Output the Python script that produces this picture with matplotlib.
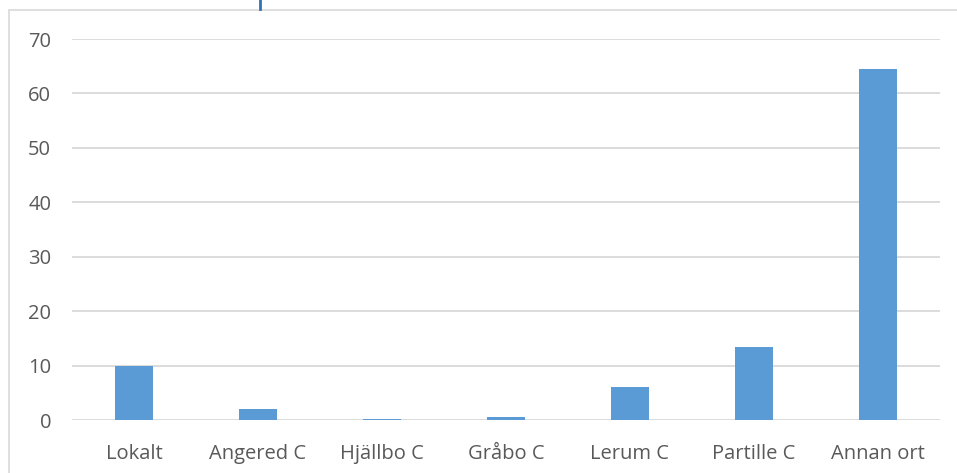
import matplotlib
matplotlib.use('Agg')
import matplotlib.pyplot as plt
from matplotlib.lines import Line2D
from matplotlib.patches import Rectangle

categories = ['Lokalt', 'Angered C', 'Hjällbo C', 'Gråbo C', 'Lerum C', 'Partille C', 'Annan ort']
values = [10, 2, 0.2, 0.5, 6, 13.5, 64.5]
yticks = [0, 10, 20, 30, 40, 50, 60, 70]

plt.rcParams['font.family'] = ['Open Sans', 'DejaVu Sans']

fig = plt.figure(figsize=(9.57, 4.73), dpi=100)
ax = fig.add_axes([72 / 957, 53 / 473, 868 / 957, 381 / 473])

x = range(len(categories))
ax.bar(x, values, width=0.31, color='#5b9bd5', zorder=3)

ax.set_xlim(-0.5, len(categories) - 0.5)
ax.set_ylim(0, 70)
ax.set_yticks(yticks)
ax.set_xticks(list(x))
ax.set_xticklabels(categories)
ax.grid(axis='y', color='#d9d9d9', linewidth=1.3, zorder=0)
ax.tick_params(axis='both', length=0, labelsize=14.5, colors='#595959')
ax.tick_params(axis='y', pad=15)
ax.tick_params(axis='x', pad=17.5)
for s in ax.spines.values():
    s.set_visible(False)

# outer chart border (partly cut off at right/bottom)
fig.add_artist(Rectangle((8.5 / 957, -0.1), 1.2, (473 - 10.5) / 473 + 0.1,
                         transform=fig.transFigure, fill=False,
                         edgecolor='#d9d9d9', linewidth=1.2))
# clipped title remnant at the top
fig.add_artist(Line2D([260 / 957, 260 / 957], [464 / 473, 1.0],
                      transform=fig.transFigure, color='#2e75b6', linewidth=2))

fig.savefig('out.png', dpi=100)
